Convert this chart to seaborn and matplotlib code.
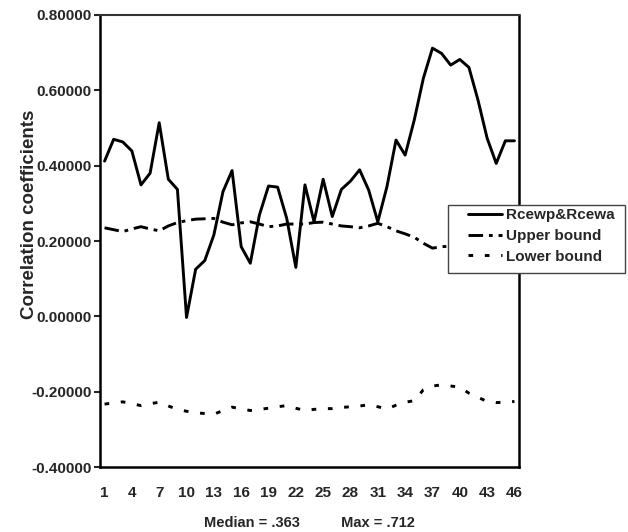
import matplotlib
matplotlib.use('Agg')
import matplotlib.pyplot as plt
import seaborn as sns
import numpy as np
from matplotlib.patches import Rectangle
from matplotlib.ticker import FormatStrFormatter, MultipleLocator

# Data
periods = list(range(1, 47))
rcew = [0.412, 0.470, 0.463, 0.439, 0.349, 0.380, 0.514, 0.364, 0.337, -0.003,
        0.125, 0.148, 0.216, 0.331, 0.387, 0.185, 0.141, 0.269, 0.346, 0.343,
        0.260, 0.130, 0.349, 0.251, 0.364, 0.265, 0.337, 0.359, 0.389, 0.335,
        0.251, 0.344, 0.468, 0.428, 0.521, 0.632, 0.712, 0.698, 0.667, 0.682,
        0.661, 0.574, 0.473, 0.406, 0.466, 0.466]
upper = [0.235, 0.230, 0.225, 0.232, 0.238, 0.232, 0.227, 0.240, 0.249, 0.254,
         0.258, 0.259, 0.260, 0.250, 0.243, 0.248, 0.251, 0.245, 0.238, 0.240,
         0.245, 0.245, 0.245, 0.249, 0.250, 0.245, 0.240, 0.238, 0.235, 0.240,
         0.247, 0.238, 0.227, 0.219, 0.210, 0.194, 0.181, 0.185, 0.186, 0.188,
         0.204, 0.215, 0.226, 0.229, 0.228, 0.226]
lower = [-0.233, -0.230, -0.227, -0.232, -0.237, -0.232, -0.228, -0.238, -0.247, -0.252,
         -0.256, -0.258, -0.260, -0.250, -0.241, -0.246, -0.250, -0.247, -0.244, -0.240,
         -0.237, -0.244, -0.250, -0.247, -0.245, -0.245, -0.242, -0.240, -0.238, -0.235,
         -0.240, -0.246, -0.236, -0.228, -0.224, -0.195, -0.185, -0.182, -0.185, -0.188,
         -0.204, -0.215, -0.226, -0.229, -0.228, -0.226]
xtick_labels = [str(v) for v in range(1, 47, 3)]

sns.set_style('white')
plt.rcParams['font.family'] = ['Liberation Sans', 'DejaVu Sans']
plt.rcParams['font.weight'] = 'bold'

fig = plt.figure(figsize=(6.28, 5.32), dpi=100)
ax = fig.add_axes([100 / 628, 1 - 467 / 532, 419 / 628, 452 / 532])

lw = 2.1
sns.lineplot(x=periods, y=rcew, ax=ax, color='black', linewidth=lw, label='Rcewp&Rcewa')
sns.lineplot(x=periods, y=upper, ax=ax, color='black', linewidth=lw,
             linestyle=(0, (5, 2, 1.3, 2)), label='Upper bound')
sns.lineplot(x=periods, y=lower, ax=ax, color='black', linewidth=lw,
             linestyle=(0, (1.6, 4)), label='Lower bound')

ax.set_xlim(0.5, 46.5)
ax.set_ylim(-0.4, 0.8)
ax.yaxis.set_major_locator(MultipleLocator(0.2))
ax.yaxis.set_major_formatter(FormatStrFormatter('%.5f'))
ax.set_xticks(range(1, 47, 3))
ax.set_xticklabels(xtick_labels)
ax.tick_params(axis='y', length=4, width=1.5, direction='out', left=True,
               labelsize=11, pad=2)
ax.tick_params(axis='x', length=0, labelsize=11, pad=14)
for lab in ax.get_xticklabels() + ax.get_yticklabels():
    lab.set_fontweight('bold')

for side in ['left', 'bottom', 'right']:
    ax.spines[side].set_color('black')
    ax.spines[side].set_linewidth(1.8)
ax.spines['top'].set_color('#333333')
ax.spines['top'].set_linewidth(1.5)

ax.set_ylabel('Correlation coefficients', fontsize=13.5, fontweight='bold')
ax.yaxis.set_label_coords(-0.147, 0.56)
ax.set_xlabel('Median = .363          Max = .712', fontsize=10.5, fontweight='bold',
              labelpad=11)

# legend box (Excel style, sits over the right edge of the plot)
box = Rectangle((448 / 628, 1 - 273 / 532), 177 / 628, 68 / 532,
                transform=fig.transFigure, facecolor='white', edgecolor='#444444',
                linewidth=1.0, clip_on=False, zorder=4.5)
ax.add_patch(box)
leg = ax.legend(loc='upper left', bbox_to_anchor=(468 / 628, 1 - 208 / 532),
                bbox_transform=fig.transFigure, frameon=False, fontsize=11,
                handlelength=2.2, handletextpad=0.3, borderpad=0,
                labelspacing=0.45, borderaxespad=0)
for t in leg.get_texts():
    t.set_fontweight('bold')

fig.savefig('out.png', dpi=100)
